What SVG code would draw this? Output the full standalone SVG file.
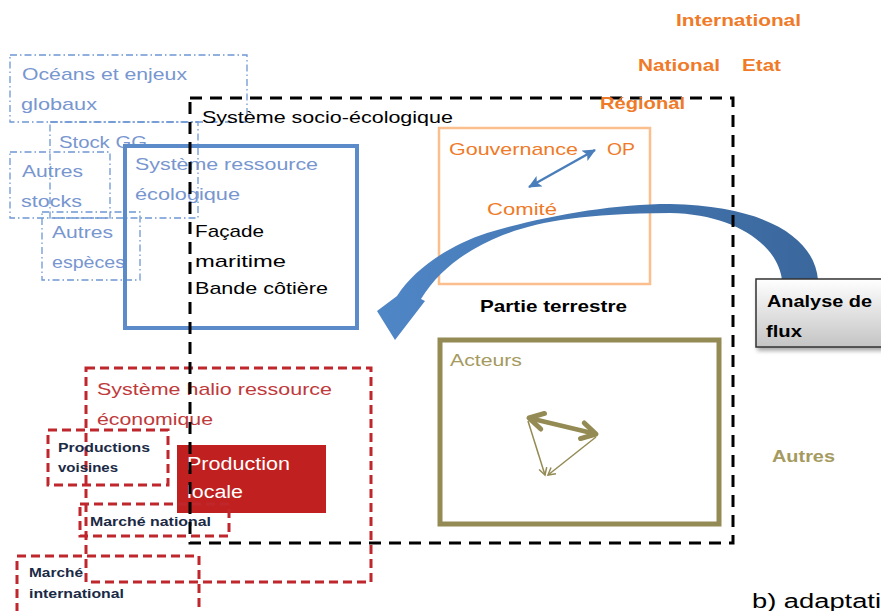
<svg xmlns="http://www.w3.org/2000/svg" width="881" height="611" viewBox="0 0 881 611">
<style>
text{font-family:"Liberation Sans",Arial,sans-serif;}
.t{font-size:17px;}
.b{font-weight:bold;}
.blue{fill:#7896cf;}
.orange{fill:#ef7a28;}
.red{fill:#c0393b;}
.olive{fill:#a59a60;}
.dark{fill:#1b2a45;font-size:12.5px;font-weight:bold;}
.dashdot{fill:none;stroke:#6f97d3;stroke-width:1.3;stroke-dasharray:7 3 1.5 3;}
.reddash{fill:none;stroke:#c0272d;stroke-width:3;stroke-dasharray:9 5;}
</style>
<defs>
<linearGradient id="arcGrad" gradientUnits="userSpaceOnUse" x1="380" y1="0" x2="820" y2="0">
<stop offset="0" stop-color="#4f86c6"/>
<stop offset="1" stop-color="#3a679c"/>
</linearGradient>
<linearGradient id="boxGrad" x1="0" y1="0" x2="0" y2="1">
<stop offset="0" stop-color="#ffffff"/>
<stop offset="1" stop-color="#c4c4c4"/>
</linearGradient>
<filter id="shadow" x="-10%" y="-10%" width="130%" height="140%">
<feDropShadow dx="2" dy="3" stdDeviation="2" flood-color="#000" flood-opacity="0.35"/>
</filter>
<marker id="blueHead" markerUnits="userSpaceOnUse" markerWidth="16" markerHeight="14" refX="12" refY="6" orient="auto-start-reverse">
<path d="M0,0 L13,6 L0,12 L3,6 Z" fill="#4a7ebb"/>
</marker>
<marker id="oliveThick" markerUnits="userSpaceOnUse" markerWidth="24" markerHeight="24" refX="17" refY="11" orient="auto-start-reverse">
<path d="M3,3 L17,11 L3,19" fill="none" stroke="#948a54" stroke-width="5" stroke-linecap="round" stroke-linejoin="round"/>
</marker>
<marker id="oliveThin" markerUnits="userSpaceOnUse" markerWidth="12" markerHeight="12" refX="8" refY="5" orient="auto-start-reverse">
<path d="M1,1 L8,5 L1,9" fill="none" stroke="#948a54" stroke-width="1.5"/>
</marker>
</defs>
<rect width="881" height="611" fill="#ffffff"/>

<g id="oceans">
<rect class="dashdot" x="10" y="55" width="237" height="67"/>
<text class="t blue" x="22" y="80" textLength="165" lengthAdjust="spacingAndGlyphs">Océans et enjeux</text>
<text class="t blue" x="21" y="110" textLength="76" lengthAdjust="spacingAndGlyphs">globaux</text>
</g>
<g id="stock-gg">
<rect class="dashdot" x="50" y="122" width="148" height="96"/>
<text class="t blue" x="59" y="148" textLength="88" lengthAdjust="spacingAndGlyphs">Stock GG</text>
</g>
<g id="autres-stocks">
<rect class="dashdot" x="10" y="152" width="100" height="66"/>
<text class="t blue" x="22" y="177" textLength="61" lengthAdjust="spacingAndGlyphs">Autres</text>
<text class="t blue" x="21" y="207" textLength="61" lengthAdjust="spacingAndGlyphs">stocks</text>
</g>
<g id="autres-especes">
<rect class="dashdot" x="42" y="212" width="98" height="68"/>
<text class="t blue" x="52" y="238" textLength="61" lengthAdjust="spacingAndGlyphs">Autres</text>
<text class="t blue" x="52" y="268" textLength="73" lengthAdjust="spacingAndGlyphs">espèces</text>
</g>

<g id="systeme-ressource">
<rect x="125" y="146" width="232" height="182" fill="none" stroke="#5b8bc9" stroke-width="4"/>
<text class="t blue" x="135" y="170" textLength="183" lengthAdjust="spacingAndGlyphs">Système ressource</text>
<text class="t blue" x="135" y="200" textLength="105" lengthAdjust="spacingAndGlyphs">écologique</text>
<text class="t" x="195" y="237" fill="#000" textLength="69" lengthAdjust="spacingAndGlyphs">Façade</text>
<text class="t" x="195" y="267" fill="#000" textLength="91" lengthAdjust="spacingAndGlyphs">maritime</text>
<text class="t" x="195" y="294" fill="#000" textLength="133" lengthAdjust="spacingAndGlyphs">Bande côtière</text>
</g>

<g id="systeme-halio">
<rect class="reddash" x="86" y="368" width="285" height="214"/>
<text class="t red" x="97" y="395" textLength="235" lengthAdjust="spacingAndGlyphs">Système halio ressource</text>
<text class="t red" x="97" y="425" textLength="116" lengthAdjust="spacingAndGlyphs">économique</text>
</g>
<g id="productions-voisines">
<rect class="reddash" x="48" y="430" width="120" height="55"/>
<text class="dark" x="58" y="452" textLength="92" lengthAdjust="spacingAndGlyphs">Productions</text>
<text class="dark" x="58" y="472" textLength="60" lengthAdjust="spacingAndGlyphs">voisines</text>
</g>
<g id="production-locale">
<rect x="177" y="445" width="149" height="68" fill="#c0201f"/>
<text x="187" y="470" fill="#ffffff" font-size="18" textLength="103" lengthAdjust="spacingAndGlyphs">Production</text>
<text x="187" y="498" fill="#ffffff" font-size="18" textLength="56" lengthAdjust="spacingAndGlyphs">locale</text>
</g>
<g id="marche-national">
<rect class="reddash" x="80" y="504" width="149" height="32"/>
<text class="dark" x="90" y="526" textLength="121" lengthAdjust="spacingAndGlyphs">Marché national</text>
</g>
<g id="marche-international">
<rect class="reddash" x="17" y="556" width="182" height="70"/>
<text class="dark" x="29" y="577" textLength="54" lengthAdjust="spacingAndGlyphs">Marché</text>
<text class="dark" x="29" y="598" textLength="95" lengthAdjust="spacingAndGlyphs">international</text>
</g>

<g id="gouvernance">
<rect x="439" y="128" width="211" height="156" fill="none" stroke="#fbbf8d" stroke-width="2.5"/>
<text class="t orange" x="449" y="155" textLength="129" lengthAdjust="spacingAndGlyphs">Gouvernance</text>
<text class="t orange" x="607" y="155" textLength="28" lengthAdjust="spacingAndGlyphs">OP</text>
<text class="t orange" x="487" y="215" textLength="70" lengthAdjust="spacingAndGlyphs">Comité</text>
</g>

<g id="partie-terrestre">
<text class="t b" x="480" y="312" fill="#000" textLength="147" lengthAdjust="spacingAndGlyphs">Partie terrestre</text>
</g>

<g id="acteurs">
<rect x="440" y="340" width="279" height="184" fill="none" stroke="#948a54" stroke-width="5"/>
<text class="t olive" x="450" y="366" textLength="72" lengthAdjust="spacingAndGlyphs">Acteurs</text>
</g>

<g id="levels">
<text class="t b orange" x="676" y="26" textLength="125" lengthAdjust="spacingAndGlyphs">International</text>
<text class="t b orange" x="638" y="71" textLength="82" lengthAdjust="spacingAndGlyphs">National</text>
<text class="t b orange" x="742" y="71" textLength="39" lengthAdjust="spacingAndGlyphs">Etat</text>
</g>

<g id="autres">
<text class="t b olive" x="772" y="462" textLength="63" lengthAdjust="spacingAndGlyphs">Autres</text>
</g>

<g id="caption">
<text x="752" y="608" font-size="20" fill="#000" textLength="129" lengthAdjust="spacingAndGlyphs">b) adaptati</text>
</g>

<g id="connectors">
<path d="M818,280 C815,240 770,206 670,204 C610,204 540,217 487,233 C450,245 415,268 397,296 L377,311 L395,340 L425,301 L421,299 C440,268 470,248 503,235 C540,221 580,214 670,213 C735,214 778,245 782,280 Z" fill="url(#arcGrad)"/>
<line x1="529" y1="187" x2="595" y2="150" stroke="#4a7ebb" stroke-width="2.5" marker-start="url(#blueHead)" marker-end="url(#blueHead)"/>
<line x1="529" y1="418" x2="596" y2="434" stroke="#948a54" stroke-width="4.5" marker-start="url(#oliveThick)" marker-end="url(#oliveThick)"/>
<line x1="528" y1="421" x2="545" y2="475" stroke="#948a54" stroke-width="1.5" marker-end="url(#oliveThin)"/>
<line x1="596" y1="437" x2="548" y2="475" stroke="#948a54" stroke-width="1.5" marker-end="url(#oliveThin)"/>
</g>

<g id="systeme-socio-ecologique">
<rect x="190" y="98" width="543" height="445" fill="none" stroke="#000" stroke-width="3" stroke-dasharray="12 8"/>
<text class="t" x="202" y="123" fill="#000" textLength="251" lengthAdjust="spacingAndGlyphs">Système socio-écologique</text>
</g>

<g id="regional">
<text class="t b orange" x="600" y="109" textLength="85" lengthAdjust="spacingAndGlyphs">Régional</text>
</g>

<g id="analyse-de-flux">
<rect x="756" y="279" width="135" height="68" fill="url(#boxGrad)" stroke="#333" stroke-width="1.5" filter="url(#shadow)"/>
<text class="t b" x="767" y="307" fill="#000" textLength="105" lengthAdjust="spacingAndGlyphs">Analyse de</text>
<text class="t b" x="766" y="337" fill="#000" textLength="36" lengthAdjust="spacingAndGlyphs">flux</text>
</g>
</svg>
